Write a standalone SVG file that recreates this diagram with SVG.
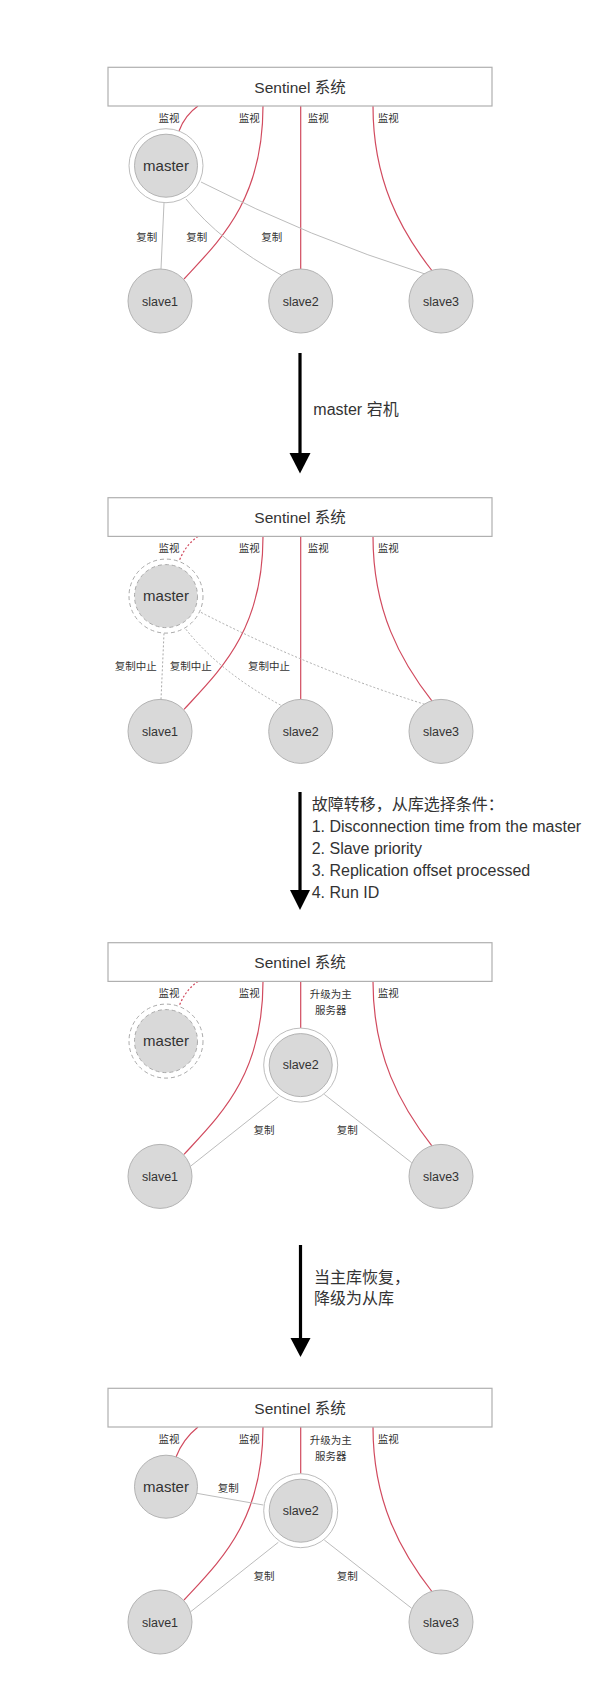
<svg xmlns="http://www.w3.org/2000/svg" width="600" height="1701" viewBox="0 0 600 1701">
<style>
text{font-family:"Liberation Sans","Noto Sans CJK SC",sans-serif;fill:#333}
.box{fill:#fff;stroke:#b0b0b0;stroke-width:1.2}
.title{font-size:15.5px;text-anchor:middle}
.node{fill:#d9d9d9;stroke:#b3b3b3;stroke-width:1}
.ring{fill:#fff;stroke:#bdbdbd;stroke-width:1}
.dnode{fill:#d9d9d9;stroke:#aaa;stroke-width:1;stroke-dasharray:4 3}
.dring{fill:#fff;stroke:#aaa;stroke-width:1;stroke-dasharray:4 3}
.ntxt{font-size:15px;text-anchor:middle}
.stxt{font-size:12.5px;text-anchor:middle}
.lbl{font-size:10.5px;text-anchor:middle}
.mon{fill:none;stroke:#d14a5e;stroke-width:1.2}
.mond{fill:none;stroke:#d14a5e;stroke-width:1.2;stroke-dasharray:2 2}
.rep{fill:none;stroke:#bcbcbc;stroke-width:1}
.repd{fill:none;stroke:#aaa;stroke-width:1;stroke-dasharray:2 2}
.arr{stroke:#000;stroke-width:3.2}
.atxt{font-size:16px}
</style>

<!-- Panel 1 -->
<g id="panel1">
  <g id="p1-connectors">
    <path class="mon" d="M198,106 Q185,115 179,131"/>
    <path class="mon" d="M263,106 C263,200 220,240 184,279"/>
    <path class="mon" d="M300.7,106 V269"/>
    <path class="mon" d="M373,106 C373,180 400,230 433,272"/>
    <path class="rep" d="M164,203 L161,269"/>
    <path class="rep" d="M186,199 Q220,242 283,276"/>
    <path class="rep" d="M201,182 Q310,238 425,274"/>
    <text class="lbl" x="169" y="122">监视</text>
    <text class="lbl" x="249.3" y="122">监视</text>
    <text class="lbl" x="318.3" y="122">监视</text>
    <text class="lbl" x="388.3" y="122">监视</text>
    <text class="lbl" x="146.7" y="240.5">复制</text>
    <text class="lbl" x="196.7" y="240.5">复制</text>
    <text class="lbl" x="271.7" y="240.5">复制</text>
  </g>
  <g id="p1-sentinel"><rect class="box" x="108" y="67.3" width="384" height="38.7"/><text class="title" x="300" y="92.5">Sentinel 系统</text></g>
  <g id="p1-master"><circle class="ring" cx="166" cy="165.7" r="37"/><circle class="node" cx="166" cy="165.7" r="31.5"/><text class="ntxt" x="166" y="171">master</text></g>
  <g id="p1-slave1"><circle class="node" cx="160" cy="301" r="32"/><text class="stxt" x="160" y="305.5">slave1</text></g>
  <g id="p1-slave2"><circle class="node" cx="300.7" cy="301" r="32"/><text class="stxt" x="300.7" y="305.5">slave2</text></g>
  <g id="p1-slave3"><circle class="node" cx="441" cy="301" r="32"/><text class="stxt" x="441" y="305.5">slave3</text></g>
</g>

<!-- Arrow 1 -->
<g id="arrow1">
  <line class="arr" x1="300" y1="353" x2="300" y2="455"/>
  <polygon points="289.5,453 310.5,453 300,473.5" fill="#000"/>
  <text class="atxt" x="313.3" y="415">master 宕机</text>
</g>

<!-- Panel 2 -->
<g id="panel2" transform="translate(0,430.4)">
  <g id="p2-connectors">
    <path class="mond" d="M198,106 Q185,115 179,131"/>
    <path class="mon" d="M263,106 C263,200 220,240 184,279"/>
    <path class="mon" d="M300.7,106 V269"/>
    <path class="mon" d="M373,106 C373,180 400,230 433,272"/>
    <path class="repd" d="M164,203 L161,269"/>
    <path class="repd" d="M186,199 Q220,242 283,276"/>
    <path class="repd" d="M201,182 Q310,238 425,274"/>
    <text class="lbl" x="169" y="122">监视</text>
    <text class="lbl" x="249.3" y="122">监视</text>
    <text class="lbl" x="318.3" y="122">监视</text>
    <text class="lbl" x="388.3" y="122">监视</text>
    <text class="lbl" x="135.7" y="240">复制中止</text>
    <text class="lbl" x="190.7" y="240">复制中止</text>
    <text class="lbl" x="269" y="240">复制中止</text>
  </g>
  <g id="p2-sentinel"><rect class="box" x="108" y="67.3" width="384" height="38.7"/><text class="title" x="300" y="92.5">Sentinel 系统</text></g>
  <g id="p2-master"><circle class="dring" cx="166" cy="165.7" r="37"/><circle class="dnode" cx="166" cy="165.7" r="31.5"/><text class="ntxt" x="166" y="171">master</text></g>
  <g id="p2-slave1"><circle class="node" cx="160" cy="301" r="32"/><text class="stxt" x="160" y="305.5">slave1</text></g>
  <g id="p2-slave2"><circle class="node" cx="300.7" cy="301" r="32"/><text class="stxt" x="300.7" y="305.5">slave2</text></g>
  <g id="p2-slave3"><circle class="node" cx="441" cy="301" r="32"/><text class="stxt" x="441" y="305.5">slave3</text></g>
</g>

<!-- Arrow 2 -->
<g id="arrow2">
  <line class="arr" x1="300" y1="792" x2="300" y2="892"/>
  <polygon points="290,890 310,890 300,910" fill="#000"/>
  <text class="atxt" x="311.7" y="810">故障转移，从库选择条件：</text>
  <text class="atxt" x="311.7" y="832">1. Disconnection time from the master</text>
  <text class="atxt" x="311.7" y="854">2. Slave priority</text>
  <text class="atxt" x="311.7" y="876">3. Replication offset processed</text>
  <text class="atxt" x="311.7" y="898">4. Run ID</text>
</g>

<!-- Panel 3 -->
<g id="panel3" transform="translate(0,875.4)">
  <g id="p3-connectors">
    <path class="mond" d="M198,106 Q185,115 179,131"/>
    <path class="mon" d="M263,106 C263,200 220,240 184,279"/>
    <path class="mon" d="M300.7,106 V152.7"/>
    <path class="mon" d="M373,106 C373,180 400,230 433,272"/>
    <path class="rep" d="M278.3,221.3 L190.7,290.7"/>
    <path class="rep" d="M324.3,219 L411.7,287.3"/>
    <text class="lbl" x="169" y="122">监视</text>
    <text class="lbl" x="249.3" y="122">监视</text>
    <text class="lbl" x="330.7" y="123">升级为主</text>
    <text class="lbl" x="330.7" y="138.6">服务器</text>
    <text class="lbl" x="388.3" y="122">监视</text>
    <text class="lbl" x="264" y="258.7">复制</text>
    <text class="lbl" x="347.3" y="258.7">复制</text>
  </g>
  <g id="p3-sentinel"><rect class="box" x="108" y="67.3" width="384" height="38.7"/><text class="title" x="300" y="92.5">Sentinel 系统</text></g>
  <g id="p3-master"><circle class="dring" cx="166" cy="165.7" r="37"/><circle class="dnode" cx="166" cy="165.7" r="31.5"/><text class="ntxt" x="166" y="171">master</text></g>
  <g id="p3-slave2"><circle class="ring" cx="300.7" cy="189.7" r="37"/><circle class="node" cx="300.7" cy="189.7" r="31.5"/><text class="stxt" x="300.7" y="194">slave2</text></g>
  <g id="p3-slave1"><circle class="node" cx="160" cy="301" r="32"/><text class="stxt" x="160" y="305.5">slave1</text></g>
  <g id="p3-slave3"><circle class="node" cx="441" cy="301" r="32"/><text class="stxt" x="441" y="305.5">slave3</text></g>
</g>

<!-- Arrow 3 -->
<g id="arrow3">
  <line class="arr" x1="300.5" y1="1245" x2="300.5" y2="1340"/>
  <polygon points="290.5,1338 310.5,1338 300.5,1357" fill="#000"/>
  <text class="atxt" x="314" y="1282.5">当主库恢复，</text>
  <text class="atxt" x="314" y="1304">降级为从库</text>
</g>

<!-- Panel 4 -->
<g id="panel4" transform="translate(0,1321)">
  <g id="p4-connectors">
    <path class="mon" d="M198,106 Q183,118 176,136"/>
    <path class="mon" d="M263,106 C263,200 220,240 184,279"/>
    <path class="mon" d="M300.7,106 V152.7"/>
    <path class="mon" d="M373,106 C373,180 400,230 433,272"/>
    <path class="rep" d="M196.7,172.3 L263.3,184"/>
    <path class="rep" d="M278.3,221.3 L190.7,290.7"/>
    <path class="rep" d="M324.3,219 L411.7,287.3"/>
    <text class="lbl" x="169" y="122">监视</text>
    <text class="lbl" x="249.3" y="122">监视</text>
    <text class="lbl" x="330.7" y="123">升级为主</text>
    <text class="lbl" x="330.7" y="138.6">服务器</text>
    <text class="lbl" x="388.3" y="122">监视</text>
    <text class="lbl" x="228.3" y="171.3">复制</text>
    <text class="lbl" x="264" y="258.7">复制</text>
    <text class="lbl" x="347.3" y="258.7">复制</text>
  </g>
  <g id="p4-sentinel"><rect class="box" x="108" y="67.3" width="384" height="38.7"/><text class="title" x="300" y="92.5">Sentinel 系统</text></g>
  <g id="p4-master"><circle class="node" cx="166" cy="165.7" r="31.5"/><text class="ntxt" x="166" y="171">master</text></g>
  <g id="p4-slave2"><circle class="ring" cx="300.7" cy="189.7" r="37"/><circle class="node" cx="300.7" cy="189.7" r="31.5"/><text class="stxt" x="300.7" y="194">slave2</text></g>
  <g id="p4-slave1"><circle class="node" cx="160" cy="301" r="32"/><text class="stxt" x="160" y="305.5">slave1</text></g>
  <g id="p4-slave3"><circle class="node" cx="441" cy="301" r="32"/><text class="stxt" x="441" y="305.5">slave3</text></g>
</g>
</svg>
